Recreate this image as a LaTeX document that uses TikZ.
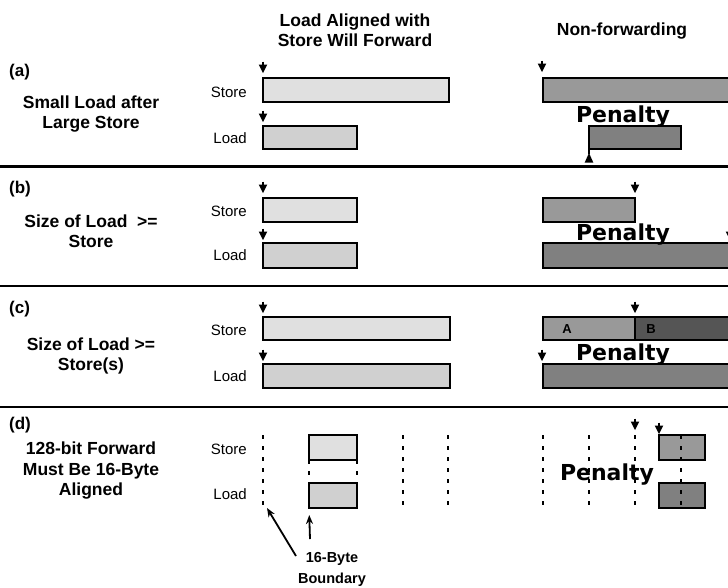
\documentclass[tikz,border=0pt]{standalone}
\usepackage{fontspec}
\setmainfont{Liberation Sans}
\newfontfamily\penaltyfont{DejaVu Sans}
\usetikzlibrary{arrows.meta}

\definecolor{storefwd}{HTML}{E0E0E0}
\definecolor{loadfwd}{HTML}{D0D0D0}
\definecolor{storenf}{HTML}{999999}
\definecolor{loadnf}{HTML}{808080}
\definecolor{partB}{HTML}{555555}

% access bar: name, fill colour, x1, y1, x2, y2 (y grows downwards)
\newcommand\membar[6]{%
  \node[cell, fill=#2, anchor=north west,
        minimum width={#5-#3}, minimum height={#6-#4}] (#1) at (#3,#4) {};}
% small down-pointing marker with its tip at (x, y)
\newcommand\dnmark[2]{%
  \fill (#1-4.3,#2-8.5) -- (#1+4.3,#2-8.5) -- (#1,#2) -- cycle;
  \draw[line width=2pt] (#1,#2-11.5) -- (#1,#2-8);}
% small up-pointing marker with its tip at (x, y)
\newcommand\upmark[2]{%
  \fill (#1-4.3,#2+9.5) -- (#1+4.3,#2+9.5) -- (#1,#2) -- cycle;}

\begin{document}
\begin{tikzpicture}[x=1pt,y=-1pt,
  hdr/.style={font=\fontsize{17.5}{20}\selectfont\bfseries, align=center, inner sep=0},
  parttag/.style={font=\fontsize{17}{20}\selectfont\bfseries, inner sep=0, anchor=base west},
  rowlbl/.style={font=\fontsize{15}{17}\selectfont, inner sep=0, anchor=east},
  pentext/.style={font=\penaltyfont\bfseries\fontsize{22}{26}\selectfont, inner sep=0, anchor=base},
  seglbl/.style={font=\fontsize{13}{15}\selectfont\bfseries, inner sep=0},
  cell/.style={draw=black, line width=1.8pt, inner sep=0, outer sep=0},
  divider/.style={line width=2.6pt},
  slotline/.style={line width=2pt, dash pattern=on 4pt off 7pt},
  callout/.style={line width=1.8pt, -{Stealth[length=9pt,width=7pt]}},
]
\useasboundingbox (0,0) rectangle (728,587);
\clip (0,0) rectangle (728,587);

% column headings
\node[hdr] (hdrfwd) at (355,30) {Load Aligned with\\Store Will Forward};
\node[hdr, anchor=base] (hdrnf) at (622,35) {Non-forwarding};

% section dividers
\draw[divider] (0,166.5) -- (728,166.5);
\draw[divider] (0,286) -- (728,286);
\draw[divider] (0,407) -- (728,407);

% ---- (a) small load after large store
\node[parttag] (ta) at (9,76) {(a)};
\node[hdr] (da) at (91,114.5) {Small Load after\\Large Store};
\node[rowlbl] (sa) at (247,92) {Store};
\node[rowlbl] (la) at (247,138) {Load};
\membar{sfa}{storefwd}{263}{78}{449}{102}
\membar{lfa}{loadfwd}{263}{126}{357}{149}
\dnmark{263}{73}
\dnmark{263}{122}
\membar{sna}{storenf}{543}{78}{740}{102}
\membar{lna}{loadnf}{589}{126}{681}{149}
\dnmark{542}{72}
\draw[line width=1.5pt] (lna.south west) -- ++(0,5);
\upmark{589}{153}
\node[pentext] (pa) at (623,122) {Penalty};

% ---- (b) load at least as large as the store
\node[parttag] (tb) at (9,193) {(b)};
\node[hdr] (db) at (91,231) {Size of Load\ \ >=\\Store};
\node[rowlbl] (sb) at (247,211) {Store};
\node[rowlbl] (lb) at (247,255) {Load};
\membar{sfb}{storefwd}{263}{198}{357}{222}
\membar{lfb}{loadfwd}{263}{243}{357}{268}
\dnmark{263}{193}
\dnmark{263}{240}
\membar{snb}{storenf}{543}{198}{635}{222}
\membar{lnb}{loadnf}{543}{243}{740}{268}
\dnmark{635}{193}
\dnmark{730}{240}
\node[pentext] (pb) at (623,240) {Penalty};

% ---- (c) load covering several stores
\node[parttag] (tc) at (9,313) {(c)};
\node[hdr] (dc) at (91,355.5) {Size of Load >=\\Store(s)};
\node[rowlbl] (sc) at (247,330) {Store};
\node[rowlbl] (lc) at (247,376) {Load};
\membar{sfc}{storefwd}{263}{317}{450}{340}
\membar{lfc}{loadfwd}{263}{364}{450}{388}
\dnmark{263}{313}
\dnmark{263}{361}
\membar{snca}{storenf}{543}{317}{635}{340}
\membar{sncb}{partB}{635}{317}{740}{340}
\node[seglbl] (segA) at (567,329) {A};
\node[seglbl] (segB) at (651,329) {B};
\dnmark{635}{313}
\dnmark{542}{361}
\membar{lnc}{loadnf}{543}{364}{740}{388}
\node[pentext] (pc) at (623,360) {Penalty};

% ---- (d) 128-bit forwarding and 16-byte boundaries
\node[parttag] (td) at (9,429) {(d)};
\node[hdr, font=\fontsize{17.5}{20.5}\selectfont\bfseries] (dd) at (91,471)
  {128-bit Forward\\Must Be 16-Byte\\Aligned};
\node[rowlbl] (sd) at (247,449) {Store};
\node[rowlbl] (ld) at (247,494) {Load};
\membar{sfd}{storefwd}{309}{435}{357}{460}
\membar{lfd}{loadfwd}{309}{483}{357}{508}
\draw[slotline] (263,435) -- (263,509);
\draw[slotline] (403,435) -- (403,509);
\draw[slotline] (448,435) -- (448,509);
\draw[slotline] (sfd.south west) -- (lfd.north west);
\draw[slotline] (sfd.south east) -- (lfd.north east);

\node[font=\fontsize{14.5}{21}\selectfont\bfseries, align=center, inner sep=0]
  (bnd) at (332,569) {16-Byte\\Boundary};
\coordinate (slotfoot) at (267,508);
\coordinate (tailA) at (296,556);
\coordinate (tailB) at (310,539);
\draw[callout] (tailA) -- (slotfoot);
\draw[callout, shorten >=7pt] (tailB) -- (lfd.south west);

\membar{snd}{storenf}{659}{435}{705}{460}
\membar{lnd}{loadnf}{659}{483}{705}{508}
\draw[slotline] (543,435) -- (543,509);
\draw[slotline] (589,435) -- (589,509);
\draw[slotline] (635,435) -- (635,509);
\draw[slotline] (681,435) -- (681,509);
\dnmark{635}{430}
\dnmark{659}{434}
\node[pentext] (pd) at (607,480) {Penalty};
\end{tikzpicture}
\end{document}
